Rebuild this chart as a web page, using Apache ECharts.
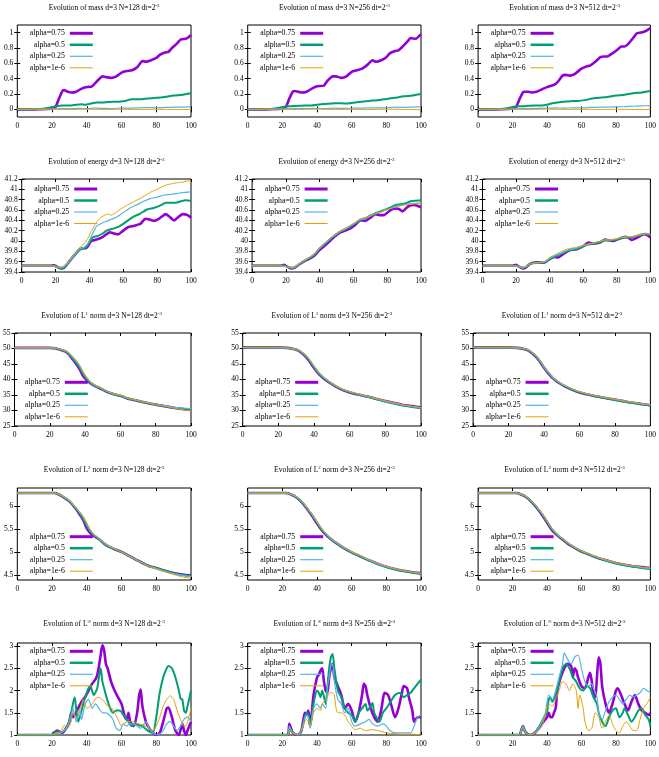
<!DOCTYPE html>
<html>
<head>
<meta charset="utf-8">
<script src="https://cdn.jsdelivr.net/npm/echarts@6/dist/echarts.min.js"></script>
<style>html,body{margin:0;padding:0;background:#fff}#main{width:659px;height:757px}</style>
</head>
<body>
<div id="main"></div>
<script>
// series labels and tick labels
const seriesNames = ['alpha=0.75', 'alpha=0.5', 'alpha=0.25', 'alpha=1e-6'];
const resolutions = [128, 256, 512];
const xTicks = [0, 20, 40, 60, 80, 100];
const massTicks = [0, 0.2, 0.4, 0.6, 0.8, 1];
const energyTicks = [39.4, 39.6, 39.8, 40, 40.2, 40.4, 40.6, 40.8, 41, 41.2];
const l1Ticks = [25, 30, 35, 40, 45, 50, 55];
const l2Ticks = [4.5, 5, 5.5, 6];
const linfTicks = [1, 1.5, 2, 2.5, 3];

// mass, [t, value]
const m128_a = [[0,0],[10,0],[18,0.005],[20,0.01],[22,0.03],[24,0.14],[26,0.24],[27,0.25],[29,0.23],[31,0.22],[34,0.23],[37,0.27],[40,0.29],[43,0.30],[46,0.37],[49,0.43],[51,0.42],[54,0.41],[57,0.43],[60,0.48],[63,0.50],[66,0.51],[69,0.55],[72,0.63],[74,0.62],[77,0.64],[80,0.67],[82,0.71],[85,0.74],[87,0.75],[89,0.80],[92,0.86],[94,0.91],[97,0.92],[98,0.93],[100,0.97]];
const m128_b = [[0,0],[10,0.002],[15,0.008],[18,0.02],[20,0.03],[22,0.04],[26,0.05],[30,0.05],[34,0.06],[37,0.065],[39,0.06],[43,0.08],[46,0.09],[50,0.09],[55,0.10],[58,0.10],[62,0.11],[66,0.13],[70,0.13],[75,0.14],[80,0.15],[85,0.16],[90,0.18],[95,0.19],[100,0.21]];
const m128_c = [[0,0],[15,0.003],[20,0.005],[25,0.008],[30,0.01],[35,0.012],[40,0.008],[45,0.015],[50,0.012],[55,0.01],[60,0.018],[65,0.015],[70,0.02],[75,0.022],[80,0.02],[85,0.025],[90,0.028],[95,0.03],[100,0.032]];
const m128_d = [[0,0],[20,0],[30,-0.003],[40,0.002],[50,-0.002],[60,0.001],[70,-0.003],[80,0.001],[90,-0.002],[100,-0.004]];
const m256_a = [[0,0],[10,0],[18,0.005],[20,0.01],[22,0.03],[24,0.14],[26,0.23],[27,0.24],[29,0.23],[31,0.22],[34,0.23],[37,0.27],[40,0.30],[44,0.31],[46,0.37],[49,0.43],[51,0.43],[54,0.41],[57,0.43],[60,0.49],[63,0.51],[66,0.53],[69,0.58],[72,0.64],[74,0.62],[77,0.64],[80,0.68],[82,0.73],[85,0.76],[87,0.77],[89,0.81],[92,0.88],[94,0.93],[97,0.92],[100,0.98]];
const m256_b = [[0,0],[10,0.002],[15,0.008],[18,0.02],[20,0.03],[23,0.04],[28,0.045],[33,0.05],[37,0.05],[40,0.06],[45,0.07],[50,0.08],[54,0.08],[58,0.075],[62,0.09],[66,0.10],[70,0.11],[75,0.12],[80,0.135],[85,0.15],[90,0.17],[95,0.18],[100,0.20]];
const m256_c = [[0,0],[15,0.003],[20,0.006],[30,0.01],[40,0.012],[45,0.01],[50,0.015],[55,0.012],[60,0.015],[70,0.018],[80,0.02],[85,0.028],[90,0.025],[95,0.03],[100,0.033]];
const m256_d = [[0,0],[20,0],[30,-0.002],[40,0.002],[50,-0.002],[60,0],[70,-0.003],[80,0.002],[90,-0.002],[100,-0.003]];
const m512_a = [[0,0],[10,0],[18,0.005],[20,0.01],[22,0.03],[24,0.13],[26,0.22],[27,0.23],[29,0.23],[31,0.22],[34,0.23],[37,0.26],[40,0.29],[43,0.31],[45,0.33],[47,0.38],[49,0.44],[51,0.45],[53,0.44],[56,0.46],[60,0.53],[63,0.56],[65,0.57],[68,0.62],[71,0.68],[73,0.69],[75,0.69],[78,0.73],[81,0.78],[83,0.82],[85,0.82],[87,0.85],[90,0.93],[92,0.99],[94,1.00],[96,1.01],[98,1.03],[100,1.06]];
const m512_b = [[0,0],[10,0.002],[15,0.008],[18,0.02],[20,0.03],[24,0.04],[28,0.045],[33,0.05],[37,0.05],[40,0.06],[43,0.08],[46,0.09],[50,0.10],[55,0.11],[58,0.11],[62,0.12],[66,0.14],[70,0.15],[75,0.16],[80,0.18],[85,0.19],[90,0.21],[95,0.22],[100,0.24]];
const m512_c = [[0,0],[15,0.003],[20,0.006],[30,0.01],[40,0.015],[45,0.02],[50,0.015],[55,0.02],[60,0.018],[65,0.025],[70,0.028],[75,0.03],[80,0.032],[85,0.035],[90,0.04],[95,0.045],[100,0.048]];
const m512_d = [[0,0],[20,0],[30,-0.002],[40,0.002],[50,-0.001],[60,0.001],[70,-0.002],[80,0.001],[90,-0.002],[100,-0.003]];

// energy
const e128_a = [[0,39.52],[17,39.52],[19,39.53],[21,39.5],[23,39.47],[25,39.48],[28,39.6],[31,39.72],[34,39.83],[36,39.86],[38,39.86],[40,39.95],[41,40.0],[43,40.02],[46,40.05],[48,40.08],[50,40.13],[52,40.17],[55,40.14],[57,40.13],[60,40.2],[63,40.27],[66,40.29],[70,40.33],[73,40.43],[75,40.42],[78,40.39],[81,40.43],[85,40.52],[87,40.48],[90,40.4],[92,40.45],[95,40.52],[98,40.5],[100,40.45]];
const e128_b = [[0,39.52],[17,39.52],[19,39.52],[21,39.49],[23,39.47],[25,39.48],[28,39.6],[31,39.72],[34,39.83],[36,39.85],[38,39.88],[40,39.97],[42,40.07],[45,40.1],[48,40.15],[50,40.2],[54,40.24],[58,40.29],[62,40.38],[66,40.47],[70,40.53],[74,40.61],[78,40.64],[82,40.69],[85,40.74],[88,40.74],[91,40.74],[94,40.77],[97,40.79],[100,40.78]];
const e128_c = [[0,39.52],[18,39.52],[21,39.5],[23,39.48],[25,39.5],[28,39.6],[31,39.72],[34,39.84],[37,39.88],[39,39.95],[41,40.08],[44,40.28],[47,40.34],[50,40.38],[53,40.42],[56,40.46],[60,40.55],[64,40.64],[68,40.7],[72,40.77],[76,40.82],[80,40.85],[84,40.89],[88,40.9],[92,40.92],[96,40.94],[100,40.95]];
const e128_d = [[0,39.52],[18,39.52],[21,39.5],[23,39.5],[25,39.52],[28,39.62],[31,39.75],[34,39.87],[37,39.95],[39,40.05],[41,40.18],[43,40.3],[45,40.4],[47,40.46],[49,40.5],[51,40.52],[53,40.5],[56,40.56],[59,40.63],[62,40.69],[65,40.74],[68,40.79],[71,40.84],[74,40.9],[77,40.96],[80,41.0],[83,41.05],[86,41.09],[89,41.11],[92,41.13],[95,41.14],[98,41.16],[100,41.17]];
const e256_a = [[0,39.52],[17,39.52],[19,39.54],[21,39.5],[23,39.47],[25,39.48],[28,39.55],[31,39.61],[34,39.66],[37,39.72],[40,39.83],[43,39.91],[46,40.0],[49,40.09],[52,40.16],[55,40.2],[58,40.24],[61,40.31],[64,40.4],[67,40.39],[70,40.45],[73,40.52],[76,40.5],[78,40.5],[82,40.6],[85,40.63],[87,40.62],[89,40.57],[92,40.66],[95,40.7],[97,40.69],[100,40.65]];
const e256_b = [[0,39.52],[17,39.52],[19,39.52],[21,39.5],[23,39.48],[25,39.49],[28,39.55],[31,39.62],[34,39.67],[37,39.74],[40,39.86],[43,39.94],[46,40.03],[49,40.11],[52,40.18],[55,40.23],[58,40.28],[61,40.34],[64,40.41],[67,40.44],[70,40.49],[73,40.54],[76,40.57],[79,40.61],[82,40.65],[85,40.7],[88,40.71],[91,40.73],[94,40.77],[97,40.78],[100,40.79]];
const e256_c = [[0,39.52],[17,39.52],[21,39.5],[23,39.48],[25,39.49],[28,39.56],[31,39.62],[34,39.68],[37,39.75],[40,39.86],[43,39.95],[46,40.04],[49,40.11],[52,40.18],[55,40.23],[58,40.29],[61,40.35],[64,40.41],[67,40.44],[70,40.48],[73,40.53],[76,40.56],[79,40.6],[82,40.63],[85,40.67],[88,40.69],[91,40.71],[94,40.72],[97,40.73],[100,40.74]];
const e256_d = [[0,39.52],[17,39.52],[21,39.5],[23,39.49],[25,39.5],[28,39.56],[31,39.63],[34,39.69],[37,39.76],[40,39.87],[43,39.96],[46,40.05],[49,40.12],[52,40.19],[55,40.24],[58,40.3],[61,40.36],[64,40.43],[67,40.45],[70,40.49],[73,40.53],[76,40.56],[79,40.6],[82,40.63],[85,40.66],[88,40.68],[91,40.7],[94,40.71],[97,40.72],[100,40.72]];
const e512_a = [[0,39.52],[18,39.52],[20,39.54],[22,39.5],[24,39.47],[26,39.49],[28,39.55],[30,39.58],[33,39.59],[36,39.58],[38,39.6],[40,39.65],[43,39.69],[45,39.68],[47,39.72],[50,39.79],[53,39.83],[56,39.84],[60,39.9],[63,39.97],[66,39.95],[70,39.97],[73,40.03],[76,40.01],[78,40.0],[82,40.05],[85,40.08],[87,40.06],[89,40.02],[93,40.08],[96,40.13],[98,40.12],[100,40.07]];
const e512_b = [[0,39.52],[18,39.52],[20,39.52],[22,39.5],[24,39.48],[26,39.5],[28,39.55],[30,39.57],[33,39.58],[36,39.58],[38,39.6],[40,39.65],[43,39.7],[46,39.74],[50,39.8],[53,39.83],[56,39.84],[60,39.9],[63,39.93],[66,39.95],[70,39.98],[73,40.01],[76,40.01],[80,40.03],[84,40.07],[87,40.07],[90,40.08],[94,40.12],[97,40.14],[100,40.12]];
const e512_c = [[0,39.52],[18,39.52],[22,39.5],[24,39.48],[26,39.5],[28,39.55],[30,39.57],[33,39.58],[36,39.59],[38,39.61],[40,39.66],[43,39.71],[46,39.75],[50,39.81],[53,39.84],[56,39.86],[60,39.91],[63,39.94],[66,39.96],[70,39.99],[73,40.02],[76,40.02],[80,40.04],[84,40.08],[87,40.08],[90,40.09],[94,40.12],[97,40.14],[100,40.13]];
const e512_d = [[0,39.52],[18,39.52],[22,39.51],[24,39.49],[26,39.51],[28,39.55],[30,39.57],[33,39.58],[36,39.59],[38,39.62],[40,39.68],[43,39.73],[46,39.78],[50,39.84],[53,39.86],[56,39.88],[60,39.92],[63,39.94],[66,39.96],[70,39.99],[73,40.02],[76,40.02],[80,40.04],[84,40.08],[87,40.08],[90,40.09],[94,40.12],[97,40.14],[100,40.13]];

// L1 norm
const l1_128_a = [[0,50.2],[20,50.2],[23,50.1],[26,49.6],[29,49.0],[31,48.0],[33,46.5],[35,45.0],[37,43.2],[39,41.0],[41,39.8],[43,38.8],[46,37.8],[49,37.0],[52,36.1],[55,35.5],[58,35.0],[61,34.6],[64,33.9],[67,33.5],[70,33.1],[74,32.6],[78,32.1],[82,31.7],[86,31.3],[90,30.9],[95,30.5],[100,30.2]];
const l1_128_b = [[0,50.2],[20,50.2],[23,50.1],[26,49.6],[29,49.1],[31,48.2],[33,46.8],[35,45.4],[37,43.8],[39,41.7],[41,40.2],[43,39.0],[46,37.9],[49,37.1],[52,36.2],[55,35.5],[58,35.0],[61,34.6],[64,33.9],[67,33.5],[70,33.1],[74,32.6],[78,32.1],[82,31.7],[86,31.3],[90,30.9],[95,30.6],[100,30.3]];
const l1_128_c = [[0,50.2],[20,50.2],[23,50.1],[26,49.7],[29,49.2],[31,48.4],[33,47.2],[35,45.9],[37,44.3],[39,42.2],[41,40.5],[43,39.2],[46,38.0],[49,37.2],[52,36.3],[55,35.6],[58,35.1],[61,34.7],[64,34.0],[67,33.6],[70,33.2],[74,32.7],[78,32.2],[82,31.8],[86,31.5],[90,31.1],[95,30.8],[100,30.6]];
const l1_128_d = [[0,50.2],[20,50.2],[23,50.1],[26,49.7],[29,49.2],[31,48.5],[33,47.4],[35,46.1],[37,44.5],[39,42.3],[41,40.6],[43,39.3],[46,38.1],[49,37.3],[52,36.4],[55,35.7],[58,35.2],[61,34.8],[64,34.1],[67,33.7],[70,33.2],[74,32.7],[78,32.2],[82,31.7],[86,31.3],[90,30.8],[95,30.3],[100,29.9]];
const l1_256_a = [[0,50.3],[20,50.3],[25,50.2],[28,49.9],[31,49.4],[34,48.1],[37,46.2],[40,43.7],[43,41.6],[46,40.1],[49,38.9],[52,37.8],[55,36.9],[58,36.2],[62,35.5],[66,35.0],[70,34.5],[74,33.9],[78,33.3],[82,32.8],[86,32.3],[90,31.8],[95,31.4],[100,31.0]];
const l1_256_b = [[0,50.3],[20,50.3],[25,50.2],[28,49.9],[31,49.5],[34,48.3],[37,46.5],[40,44.0],[43,41.8],[46,40.2],[49,39.0],[52,37.9],[55,37.0],[58,36.3],[62,35.6],[66,35.0],[70,34.4],[74,33.8],[78,33.2],[82,32.6],[86,32.1],[90,31.6],[95,31.1],[100,30.7]];
const l1_256_c = [[0,50.3],[20,50.3],[25,50.2],[28,49.9],[31,49.5],[34,48.4],[37,46.7],[40,44.2],[43,42.0],[46,40.4],[49,39.1],[52,38.0],[55,37.1],[58,36.4],[62,35.7],[66,35.1],[70,34.5],[74,33.9],[78,33.3],[82,32.7],[86,32.2],[90,31.7],[95,31.2],[100,30.8]];
const l1_256_d = [[0,50.3],[20,50.3],[25,50.2],[28,50.0],[31,49.6],[34,48.5],[37,46.8],[40,44.4],[43,42.2],[46,40.5],[49,39.2],[52,38.1],[55,37.2],[58,36.5],[62,35.8],[66,35.2],[70,34.6],[74,34.0],[78,33.4],[82,32.9],[86,32.4],[90,31.9],[95,31.4],[100,31.0]];
const l1_512_a = [[0,50.3],[20,50.3],[25,50.2],[28,49.9],[31,49.4],[34,48.1],[37,46.3],[40,43.8],[43,41.6],[46,39.9],[49,38.7],[52,37.7],[55,36.9],[58,36.2],[62,35.5],[66,35.0],[70,34.5],[74,34.1],[78,33.7],[82,33.3],[86,32.9],[90,32.5],[95,32.1],[100,31.7]];
const l1_512_b = [[0,50.3],[20,50.3],[25,50.2],[28,49.9],[31,49.5],[34,48.3],[37,46.5],[40,44.0],[43,41.8],[46,40.0],[49,38.8],[52,37.8],[55,37.0],[58,36.3],[62,35.6],[66,35.0],[70,34.5],[74,34.0],[78,33.6],[82,33.2],[86,32.8],[90,32.4],[95,32.0],[100,31.6]];
const l1_512_c = [[0,50.3],[20,50.3],[25,50.2],[28,50.0],[31,49.5],[34,48.4],[37,46.6],[40,44.1],[43,41.9],[46,40.1],[49,38.9],[52,37.9],[55,37.1],[58,36.4],[62,35.7],[66,35.1],[70,34.6],[74,34.2],[78,33.8],[82,33.4],[86,33.0],[90,32.6],[95,32.2],[100,31.8]];
const l1_512_d = [[0,50.3],[20,50.3],[25,50.2],[28,50.0],[31,49.6],[34,48.5],[37,46.8],[40,44.3],[43,42.1],[46,40.3],[49,39.0],[52,38.0],[55,37.2],[58,36.5],[62,35.8],[66,35.2],[70,34.7],[74,34.2],[78,33.8],[82,33.4],[86,33.0],[90,32.6],[95,32.2],[100,31.8]];

// L2 norm
const l2_128_a = [[0,6.29],[21,6.29],[24,6.26],[27,6.19],[30,6.11],[33,5.98],[36,5.82],[38,5.7],[40,5.52],[42,5.42],[44,5.36],[47,5.29],[50,5.19],[53,5.12],[56,5.07],[60,5.01],[64,4.93],[68,4.85],[72,4.77],[76,4.7],[80,4.66],[85,4.6],[90,4.55],[95,4.52],[100,4.5]];
const l2_128_b = [[0,6.29],[21,6.29],[24,6.26],[27,6.19],[30,6.11],[33,5.99],[36,5.84],[38,5.73],[40,5.58],[42,5.46],[44,5.38],[47,5.29],[50,5.19],[53,5.12],[56,5.07],[60,5.01],[64,4.93],[68,4.85],[72,4.77],[76,4.7],[80,4.66],[85,4.6],[90,4.55],[95,4.51],[100,4.49]];
const l2_128_c = [[0,6.29],[21,6.29],[24,6.26],[27,6.2],[30,6.12],[33,6.0],[36,5.86],[38,5.76],[40,5.62],[42,5.48],[44,5.39],[47,5.3],[50,5.2],[53,5.13],[56,5.08],[60,5.01],[64,4.93],[68,4.85],[72,4.77],[76,4.7],[80,4.65],[85,4.59],[90,4.54],[95,4.5],[100,4.47]];
const l2_128_d = [[0,6.29],[21,6.29],[24,6.27],[27,6.21],[30,6.13],[33,6.01],[36,5.88],[38,5.78],[40,5.64],[42,5.5],[44,5.4],[47,5.31],[50,5.21],[53,5.14],[56,5.08],[60,5.01],[64,4.93],[68,4.85],[72,4.77],[76,4.69],[80,4.64],[85,4.58],[90,4.52],[95,4.47],[100,4.44]];
const l2_256_a = [[0,6.29],[22,6.29],[25,6.26],[28,6.2],[31,6.1],[34,5.96],[37,5.8],[40,5.63],[43,5.47],[46,5.35],[49,5.26],[52,5.18],[56,5.08],[60,5.0],[64,4.93],[68,4.86],[72,4.8],[76,4.74],[80,4.69],[85,4.64],[90,4.6],[95,4.57],[100,4.55]];
const l2_256_b = [[0,6.29],[22,6.29],[25,6.26],[28,6.2],[31,6.1],[34,5.97],[37,5.82],[40,5.65],[43,5.48],[46,5.36],[49,5.26],[52,5.18],[56,5.08],[60,5.0],[64,4.93],[68,4.86],[72,4.79],[76,4.73],[80,4.68],[85,4.63],[90,4.59],[95,4.56],[100,4.53]];
const l2_256_c = [[0,6.29],[22,6.29],[25,6.26],[28,6.21],[31,6.11],[34,5.98],[37,5.83],[40,5.66],[43,5.5],[46,5.37],[49,5.27],[52,5.19],[56,5.09],[60,5.01],[64,4.94],[68,4.87],[72,4.8],[76,4.74],[80,4.69],[85,4.64],[90,4.6],[95,4.57],[100,4.54]];
const l2_256_d = [[0,6.29],[22,6.29],[25,6.27],[28,6.21],[31,6.12],[34,5.99],[37,5.84],[40,5.67],[43,5.51],[46,5.38],[49,5.28],[52,5.2],[56,5.1],[60,5.02],[64,4.95],[68,4.88],[72,4.81],[76,4.75],[80,4.7],[85,4.65],[90,4.61],[95,4.57],[100,4.55]];
const l2_512_a = [[0,6.29],[22,6.29],[25,6.26],[28,6.2],[31,6.1],[34,5.97],[37,5.82],[40,5.65],[43,5.48],[46,5.37],[49,5.28],[52,5.19],[56,5.1],[60,5.02],[64,4.96],[68,4.9],[72,4.85],[76,4.81],[80,4.77],[85,4.73],[90,4.7],[95,4.68],[100,4.66]];
const l2_512_b = [[0,6.29],[22,6.29],[25,6.26],[28,6.2],[31,6.1],[34,5.98],[37,5.84],[40,5.67],[43,5.5],[46,5.38],[49,5.29],[52,5.2],[56,5.1],[60,5.02],[64,4.96],[68,4.9],[72,4.85],[76,4.8],[80,4.76],[85,4.72],[90,4.69],[95,4.66],[100,4.64]];
const l2_512_c = [[0,6.29],[22,6.29],[25,6.26],[28,6.21],[31,6.11],[34,5.99],[37,5.85],[40,5.68],[43,5.51],[46,5.39],[49,5.3],[52,5.21],[56,5.11],[60,5.03],[64,4.97],[68,4.91],[72,4.86],[76,4.81],[80,4.77],[85,4.73],[90,4.7],[95,4.67],[100,4.65]];
const l2_512_d = [[0,6.29],[22,6.29],[25,6.27],[28,6.21],[31,6.12],[34,6.0],[37,5.86],[40,5.69],[43,5.52],[46,5.4],[49,5.3],[52,5.21],[56,5.11],[60,5.03],[64,4.97],[68,4.91],[72,4.86],[76,4.82],[80,4.78],[85,4.74],[90,4.71],[95,4.68],[100,4.67]];

// L-infinity norm
const linf128_a = [[0,1],[20,1],[21,1.05],[23,1.1],[24,1.08],[26,1.05],[28,1.15],[30,1.3],[31,1.5],[32,1.4],[33,1.45],[35,1.6],[37,1.75],[39,1.85],[41,2.0],[43,2.15],[45,2.25],[46,2.35],[47,2.55],[48,2.8],[49,3.02],[50,2.9],[51,2.6],[52,2.5],[54,2.2],[56,2.0],[58,1.85],[60,1.7],[61,1.55],[62,1.4],[63,1.35],[64,1.5],[65,1.3],[67,1.2],[69,1.5],[70,1.85],[71,2.02],[72,1.65],[74,1.3],[76,1.15],[78,1.05],[80,1.0],[82,1.05],[84,1.3],[86,1.6],[87,1.62],[89,1.4],[91,1.1],[93,1.0],[95,1.25],[96,1.1],[97,1.0],[98,1.1],[100,1.3]];
const linf128_b = [[0,1],[20,1],[21,1.05],[23,1.08],[25,1.06],[27,1.1],[29,1.2],[31,1.5],[33,1.85],[34,1.55],[35,1.3],[36,1.4],[38,1.7],[40,1.95],[41,2.05],[42,2.1],[44,1.9],[46,2.05],[47,2.3],[48,2.5],[49,2.2],[50,2.05],[51,1.9],[53,1.65],[55,1.5],[57,1.55],[59,1.55],[61,1.45],[63,1.35],[64,1.3],[66,1.2],[68,1.25],[70,1.22],[72,1.2],[75,1.1],[78,1.05],[80,1.4],[82,1.95],[84,2.3],[86,2.5],[87,2.55],[89,2.5],[91,2.3],[93,2.0],[94,1.82],[95,1.8],[96,1.55],[97,1.5],[98,1.65],[100,2.0]];
const linf128_c = [[0,1],[20,1],[22,1.03],[25,1.05],[27,1.1],[29,1.2],[31,1.45],[32,1.6],[33,1.45],[34,1.3],[36,1.55],[37,1.35],[39,1.7],[41,1.8],[43,1.6],[45,1.7],[47,1.6],[49,1.5],[51,1.5],[53,1.45],[55,1.35],[57,1.15],[59,1.1],[61,1.25],[63,1.2],[65,1.25],[67,1.25],[69,1.2],[71,1.15],[73,1.25],[74,1.3],[76,1.15],[78,1.05],[80,1.0],[82,1.02],[84,1.1],[86,1.25],[88,1.3],[90,1.2],[92,1.1],[94,1.2],[96,1.35],[98,1.4],[100,1.3]];
const linf128_d = [[0,1],[20,1],[22,1.03],[24,1.05],[26,1.15],[27,1.22],[29,1.15],[31,1.3],[32,1.5],[34,1.4],[35,1.45],[37,1.7],[38,1.8],[39,1.7],[40,1.6],[42,1.65],[44,1.75],[46,1.85],[48,1.83],[50,1.75],[52,1.65],[54,1.62],[56,1.5],[58,1.35],[60,1.2],[62,1.28],[64,1.3],[66,1.3],[68,1.28],[70,1.25],[73,1.22],[76,1.15],[78,1.1],[80,1.2],[82,1.4],[84,1.65],[86,1.8],[88,1.88],[90,1.8],[92,1.55],[94,1.35],[96,1.2],[97,1.2],[99,1.45],[100,1.6]];
const linf256_a = [[0,1],[23,1],[24,1.25],[25,1.15],[26,1.05],[29,1.0],[31,1.1],[33,1.5],[34,1.45],[35,1.55],[36,1.2],[37,1.5],[38,1.9],[40,2.3],[41,2.35],[42,2.45],[43,2.5],[44,2.2],[45,2.0],[46,1.95],[47,2.3],[48,2.5],[49,2.6],[50,2.3],[52,2.1],[54,1.9],[56,1.6],[58,1.7],[60,1.55],[62,1.3],[64,1.5],[66,1.9],[67,2.15],[68,2.1],[69,1.9],[71,1.6],[73,1.4],[75,1.3],[77,1.55],[78,1.8],[79,1.95],[81,1.9],[83,1.65],[85,1.4],[87,1.6],[89,1.95],[90,2.1],[92,2.05],[93,1.85],[95,1.55],[96,1.3],[98,1.4],[100,1.4]];
const linf256_b = [[0,1],[23,1],[24,1.15],[25,1.1],[26,1.05],[29,1.0],[31,1.1],[33,1.4],[34,1.5],[35,1.45],[36,1.2],[38,1.7],[40,2.0],[41,1.95],[42,1.85],[43,2.0],[45,1.7],[46,2.1],[47,2.5],[48,2.75],[49,2.82],[50,2.5],[52,2.0],[54,1.85],[56,1.6],[58,1.5],[60,1.45],[62,1.3],[64,1.5],[66,1.6],[68,1.7],[69,1.55],[71,1.65],[72,1.72],[73,1.5],[75,1.35],[76,1.3],[78,1.5],[80,1.6],[82,1.72],[85,1.9],[88,1.95],[90,1.85],[92,1.9],[94,1.95],[96,2.05],[98,2.15],[100,2.25]];
const linf256_c = [[0,1],[23,1],[24,1.2],[25,1.12],[26,1.05],[29,1.0],[31,1.1],[33,1.4],[34,1.45],[35,1.4],[36,1.15],[38,1.6],[40,1.7],[42,1.6],[43,1.7],[45,1.6],[46,2.1],[47,2.3],[48,2.55],[49,2.6],[50,2.2],[52,1.8],[54,1.7],[56,1.5],[58,1.6],[60,1.3],[62,1.2],[65,1.25],[68,1.3],[70,1.35],[72,1.25],[75,1.2],[78,1.25],[80,1.2],[82,1.1],[85,1.05],[90,1.05],[94,1.05],[96,1.2],[98,1.4],[100,1.45]];
const linf256_d = [[0,1],[23,1],[24,1.1],[25,1.08],[26,1.05],[29,1.0],[31,1.1],[33,1.3],[34,1.35],[35,1.3],[36,1.2],[38,1.5],[40,1.6],[42,1.55],[43,1.7],[45,1.8],[46,1.85],[47,1.95],[49,1.95],[50,1.9],[51,1.6],[52,1.5],[54,1.5],[56,1.45],[58,1.3],[60,1.2],[62,1.12],[65,1.15],[68,1.1],[72,1.12],[75,1.1],[80,1.05],[85,1.03],[90,1.02],[95,1.02],[100,1.0]];
const linf512_a = [[0,1],[24,1],[25,1.1],[26,1.2],[27,1.1],[28,1.05],[30,1.0],[33,1.05],[35,1.15],[37,1.25],[39,1.35],[40,1.4],[41,1.5],[42,1.4],[43,1.4],[44,1.5],[45,1.6],[46,2.0],[48,2.3],[50,2.5],[52,2.6],[54,2.55],[55,2.3],[56,2.5],[57,2.45],[58,2.3],[60,2.1],[62,2.05],[64,2.3],[65,2.4],[66,2.2],[67,1.9],[68,1.85],[69,2.3],[70,2.75],[71,2.6],[72,2.1],[74,1.7],[76,1.5],[78,1.7],[80,2.0],[81,2.05],[83,1.9],[85,1.7],[87,1.55],[89,1.75],[91,1.9],[93,1.7],[95,1.55],[97,1.5],[99,1.45],[100,1.5]];
const linf512_b = [[0,1],[24,1],[25,1.1],[26,1.2],[27,1.1],[28,1.05],[30,1.0],[33,1.05],[35,1.15],[37,1.3],[39,1.45],[40,1.5],[41,1.8],[42,1.85],[43,1.75],[45,1.9],[47,2.2],[49,2.5],[51,2.6],[53,2.5],[55,2.3],[57,2.2],[59,2.05],[61,2.0],[63,2.1],[65,2.05],[67,1.85],[69,1.7],[70,1.5],[72,1.3],[74,1.2],[76,1.4],[78,1.55],[80,1.6],[82,1.4],[84,1.5],[85,1.6],[87,1.45],[89,1.3],[91,1.4],[93,1.55],[95,1.6],[97,1.45],[99,1.35],[100,1.2]];
const linf512_c = [[0,1],[24,1],[25,1.1],[26,1.2],[27,1.1],[28,1.05],[30,1.0],[33,1.05],[35,1.15],[37,1.3],[39,1.5],[41,1.9],[43,1.8],[45,2.0],[47,2.3],[49,2.6],[50,2.85],[52,2.7],[54,2.6],[56,2.75],[58,2.8],[60,2.5],[62,2.2],[64,2.1],[66,2.15],[67,2.05],[69,1.85],[70,1.5],[72,1.35],[74,1.55],[76,1.75],[78,1.85],[80,1.9],[82,1.8],[84,1.7],[86,1.8],[88,1.9],[90,1.85],[92,1.9],[94,1.95],[96,2.05],[98,2.0],[100,1.95]];
const linf512_d = [[0,1],[24,1],[25,1.08],[26,1.15],[27,1.1],[28,1.05],[30,1.0],[33,1.05],[35,1.1],[37,1.2],[39,1.45],[41,1.7],[43,1.65],[45,1.8],[47,2.0],[49,2.2],[51,2.15],[53,2.0],[55,2.15],[57,2.0],[58,1.6],[59,1.9],[61,1.6],[62,1.3],[64,1.1],[66,1.15],[68,1.5],[70,1.4],[72,1.15],[74,1.3],[76,1.45],[78,1.25],[80,1.1],[82,1.05],[84,1.2],[86,1.3],[88,1.2],[90,1.1],[92,1.1],[94,1.35],[96,1.6],[98,1.7],[100,1.85]];

// styling
const FONT = 'Liberation Serif';
const W = 659;
const alphaColors = ['#9400d3', '#009e73', '#56b4e9', '#e69f00'];
const lineWidths = [2.6, 2, 1.2, 1];
const legendWidths = [3, 2.5, 1.2, 1];

// layout of the 5x3 panel grid (px)
const rowTop = [25, 179, 333, 488, 643];
const rowHeight = [92, 93, 93, 92, 92];
const rowLeftPad = [17.3, 21.7, 12.3, 17.3, 17.3];
const colStep = 230.4;
const colRight = [191, 421, 651];
const legendOffset = [8.3, 10, 49.3, 48.7, 8.3];
const titleMid = [8, 161.7, 316, 470, 624];

const quantities = [
  { label: 'mass', min: -0.1, max: 1.1, ticks: massTicks, smooth: 0.15,
    data: [[m128_a, m128_b, m128_c, m128_d], [m256_a, m256_b, m256_c, m256_d], [m512_a, m512_b, m512_c, m512_d]] },
  { label: 'energy', min: 39.4, max: 41.2, ticks: energyTicks, smooth: 0.15,
    data: [[e128_a, e128_b, e128_c, e128_d], [e256_a, e256_b, e256_c, e256_d], [e512_a, e512_b, e512_c, e512_d]] },
  { label: 'L{sup|1} norm', min: 25, max: 55, ticks: l1Ticks, smooth: 0.3,
    data: [[l1_128_a, l1_128_b, l1_128_c, l1_128_d], [l1_256_a, l1_256_b, l1_256_c, l1_256_d], [l1_512_a, l1_512_b, l1_512_c, l1_512_d]] },
  { label: 'L{sup|2} norm', min: 4.4, max: 6.4, ticks: l2Ticks, smooth: 0.3,
    data: [[l2_128_a, l2_128_b, l2_128_c, l2_128_d], [l2_256_a, l2_256_b, l2_256_c, l2_256_d], [l2_512_a, l2_512_b, l2_512_c, l2_512_d]] },
  { label: 'L{sup|\u221e} norm', min: 1, max: 3.07, ticks: linfTicks, smooth: 0.25,
    data: [[linf128_a, linf128_b, linf128_c, linf128_d], [linf256_a, linf256_b, linf256_c, linf256_d], [linf512_a, linf512_b, linf512_c, linf512_d]] },
];

const tickStyle = { show: true, inside: true, length: 3, lineStyle: { color: '#000', width: 1 } };
const labelStyle = { fontFamily: FONT, fontSize: 7.5, color: '#000' };

function makeAxis(kind, gi, pos, showLabel, min, max, ticks) {
  return {
    type: 'value', gridIndex: gi, position: pos, min, max,
    axisLine: { show: false }, splitLine: { show: false },
    axisTick: Object.assign({ customValues: ticks }, tickStyle),
    axisLabel: Object.assign({ show: showLabel, customValues: ticks, margin: kind === 'x' ? 5 : 4 }, labelStyle),
  };
}

const legendItems = seriesNames.map((name, k) => ({ name, lineStyle: { width: legendWidths[k] } }));

const option = { animation: false, title: [], legend: [], grid: [], xAxis: [], yAxis: [], series: [] };

quantities.forEach((q, r) => {
  resolutions.forEach((n, c) => {
    const i = r * 3 + c;
    const left = rowLeftPad[r] + colStep * c;
    const right = colRight[c];
    const top = rowTop[r];
    option.grid.push({ left, top, width: right - left, height: rowHeight[r], show: true, borderColor: '#000', borderWidth: 1 });
    option.title.push({
      text: 'Evolution of ' + q.label + ' d=3 N=' + n + ' dt=2{sup|-3}',
      left: (left + right) / 2, top: titleMid[r] - 5, textAlign: 'center', padding: 0,
      textStyle: { fontFamily: FONT, fontSize: 7.5, fontWeight: 'normal', color: '#000',
        rich: { sup: { fontFamily: FONT, fontSize: 5, color: '#000', padding: [0, 0, 5, 0] } } },
    });
    option.legend.push({
      orient: 'vertical', align: 'right', right: W - (left + 77), top: top + legendOffset[r] - 4.5,
      itemWidth: 23, itemHeight: 9, itemGap: 2.5, padding: 0, selectedMode: false,
      itemStyle: { opacity: 0 },
      textStyle: { fontFamily: FONT, fontSize: 7.8, color: '#000', lineHeight: 9 },
      data: legendItems,
    });
    option.xAxis.push(makeAxis('x', i, 'bottom', true, 0, 100, xTicks));
    option.xAxis.push(makeAxis('x', i, 'top', false, 0, 100, xTicks));
    option.yAxis.push(makeAxis('y', i, 'left', true, q.min, q.max, q.ticks));
    option.yAxis.push(makeAxis('y', i, 'right', false, q.min, q.max, q.ticks));
    q.data[c].forEach((pts, k) => {
      option.series.push({
        type: 'line', name: seriesNames[k], xAxisIndex: 2 * i, yAxisIndex: 2 * i,
        data: pts, symbol: 'none', smooth: q.smooth, silent: true,
        lineStyle: { color: alphaColors[k], width: lineWidths[k] },
        itemStyle: { color: alphaColors[k] },
      });
    });
  });
});

const chart = echarts.init(document.getElementById('main'), null, { renderer: 'canvas' });
chart.setOption(option);
</script>
</body>
</html>
